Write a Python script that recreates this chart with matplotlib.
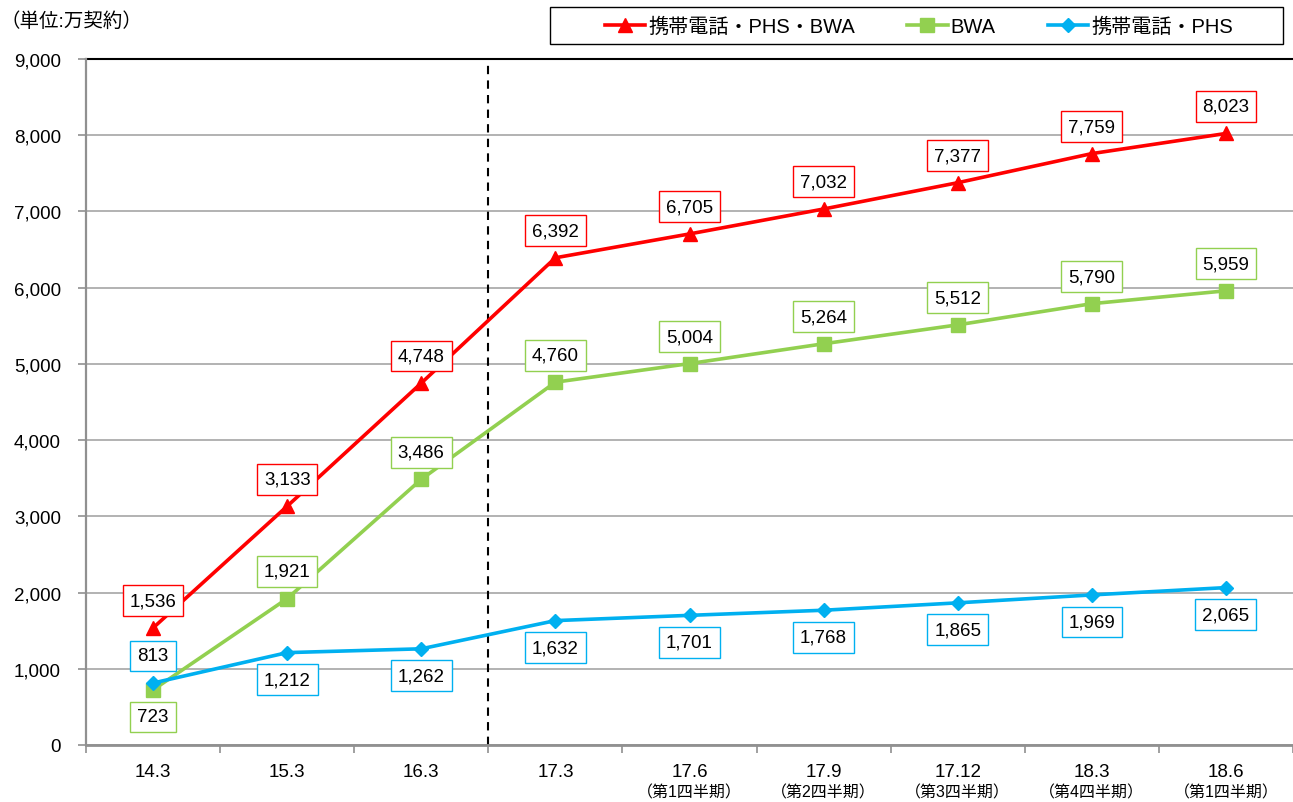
import matplotlib.pyplot as plt
from matplotlib.patches import Rectangle
from matplotlib.lines import Line2D
import matplotlib.transforms as mtransforms

plt.rcParams['font.family'] = ['Liberation Sans', 'Noto Sans CJK JP', 'DejaVu Sans']

# ---- data ----
periods = ['14.3', '15.3', '16.3', '17.3', '17.6', '17.9', '17.12', '18.3', '18.6']
quarters = ['', '', '', '', '（第1四半期）', '（第2四半期）', '（第3四半期）', '（第4四半期）', '（第1四半期）']
total_vals = [1536, 3133, 4748, 6392, 6705, 7032, 7377, 7759, 8023]
bwa_vals = [723, 1921, 3486, 4760, 5004, 5264, 5512, 5790, 5959]
phs_vals = [813, 1212, 1262, 1632, 1701, 1768, 1865, 1969, 2065]

# label placement: +1 above, -1 below
total_side = [1, 1, 1, 1, 1, 1, 1, 1, 1]
bwa_side = [-1, 1, 1, 1, 1, 1, 1, 1, 1]
phs_side = [1, -1, -1, -1, -1, -1, -1, -1, -1]

RED = '#FF0000'
GREEN = '#92D050'
BLUE = '#00B0F0'

W, H = 1293, 803
fig = plt.figure(figsize=(W / 100, H / 100), dpi=100)
ax = fig.add_axes([86 / W, 57 / H, 1 - 86 / W, 686 / H])

x = list(range(len(periods)))

ax.plot(x, bwa_vals, color=GREEN, lw=2.6, marker='s', ms=9.5, zorder=3, clip_on=False)
ax.plot(x, phs_vals, color=BLUE, lw=2.6, marker='D', ms=7.5, zorder=4, clip_on=False)
ax.plot(x, total_vals, color=RED, lw=2.6, marker='^', ms=10, zorder=5, clip_on=False)


def add_labels(vals, sides, color):
    for xi, v, s in zip(x, vals, sides):
        ax.annotate(f'{v:,}', (xi, v), xytext=(0, 19.5 * s), textcoords='offset points',
                    ha='center', va='center', fontsize=13.5, zorder=6,
                    bbox=dict(boxstyle='square,pad=0.37', fc='white', ec=color, lw=1.0))


add_labels(total_vals, total_side, RED)
add_labels(bwa_vals, bwa_side, GREEN)
add_labels(phs_vals, phs_side, BLUE)

ax.axvline(2.5, color='black', lw=1.5, ls=(0, (4, 3)), zorder=2)

ax.set_xlim(-0.5, (W - 153) / 135)
ax.set_ylim(0, 9000)
ax.set_yticks(range(0, 9001, 1000))
ax.set_yticklabels([f'{v:,}' for v in range(0, 9001, 1000)], fontsize=13.5)
ax.set_xticks(x)
ax.set_xticklabels(periods, fontsize=13.5)
ax.set_xticks([i + 0.5 for i in range(-1, len(periods))], minor=True)
ax.tick_params(axis='x', which='major', length=0, pad=13)
ax.tick_params(axis='x', which='minor', length=6, color='#909090', width=1.2)
ax.tick_params(axis='y', length=6, color='#909090', width=1.2, pad=12)

ax.grid(axis='y', color='#A6A6A6', lw=1.2, zorder=0)
ax.set_axisbelow(True)
for side in ['right', 'top']:
    ax.spines[side].set_visible(False)
ax.spines['left'].set_color('#909090')
ax.spines['left'].set_linewidth(1.6)
ax.spines['bottom'].set_color('#909090')
ax.spines['bottom'].set_linewidth(2.0)
ax.axhline(9000, color='black', lw=1.5, zorder=2, clip_on=False)

# quarter sub-labels under the ticks
trans = mtransforms.blended_transform_factory(ax.transData, fig.transFigure)
for xi, q in zip(x, quarters):
    if q:
        fig.text(xi, 1 - 793 / H, q, transform=trans, ha='center', va='center', fontsize=11.5)

fig.text(0, 1 - 22 / H, '（単位:万契約）', ha='left', va='center', fontsize=14)

# legend with a fixed frame
fig.patches.append(Rectangle((550 / W, 1 - 45 / H), 733 / W, 37 / H, transform=fig.transFigure,
                             fill=False, ec='black', lw=1.0))
handles = [
    Line2D([], [], color=RED, lw=2.6, marker='^', ms=10),
    Line2D([], [], color=GREEN, lw=2.6, marker='s', ms=9.5),
    Line2D([], [], color=BLUE, lw=2.6, marker='D', ms=7.5),
]
fig.legend(handles, ['携帯電話・PHS・BWA', 'BWA', '携帯電話・PHS'], ncol=3, frameon=False,
           loc='center', bbox_to_anchor=(919 / W, 1 - 27 / H), fontsize=14.5,
           handlelength=2.0, handletextpad=0.15, columnspacing=2.6, borderpad=0)

fig.savefig('out.png', dpi=100)
